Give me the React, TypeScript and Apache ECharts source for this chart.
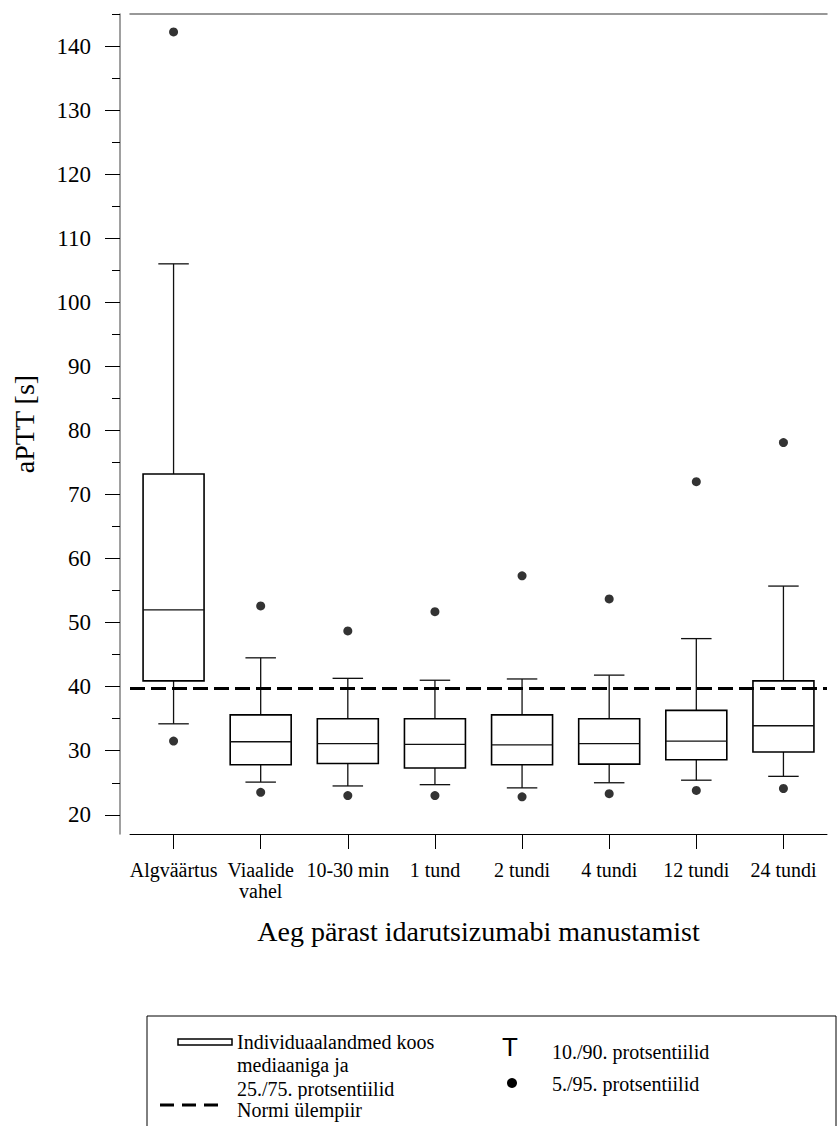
import React, { useEffect, useRef } from "react";
import * as echarts from "echarts";

// aPTT by time point: box = 25th/75th percentile with median,
// whiskers = 10th/90th percentile, dots = 5th/95th percentile.
const categories = [
  "Algväärtus",
  "Viaalide\nvahel",
  "10-30 min",
  "1 tund",
  "2 tundi",
  "4 tundi",
  "12 tundi",
  "24 tundi",
];
const p10 = [34.2, 25.1, 24.5, 24.7, 24.2, 25.0, 25.4, 26.0];
const q1 = [40.9, 27.8, 28.0, 27.3, 27.8, 27.9, 28.6, 29.8];
const median = [52.0, 31.4, 31.1, 31.0, 30.9, 31.1, 31.5, 33.9];
const q3 = [73.2, 35.6, 35.0, 35.0, 35.6, 35.0, 36.3, 40.9];
const p90 = [106.0, 44.5, 41.3, 41.0, 41.2, 41.8, 47.5, 55.7];
const p5 = [31.5, 23.5, 23.0, 23.0, 22.8, 23.3, 23.8, 24.1];
const p95 = [142.2, 52.6, 48.7, 51.7, 57.3, 53.7, 72.0, 78.1];
const normUpper = 39.8;

const majorTicks = [20, 30, 40, 50, 60, 70, 80, 90, 100, 110, 120, 130, 140];
const minorTicks = [25, 35, 45, 55, 65, 75, 85, 95, 105, 115, 125, 135, 145];

const SERIF = "Liberation Serif";
const SANS = "Liberation Sans";

export default function App() {
  const ref = useRef<HTMLDivElement>(null);

  useEffect(() => {
    if (!ref.current) return;
    const chart = echarts.init(ref.current, null, { renderer: "svg" });

    const boxData = categories.map((_, i) => [i, p10[i], q1[i], median[i], q3[i], p90[i]]);
    const dotData: number[][] = [];
    categories.forEach((_, i) => {
      dotData.push([i, p5[i]]);
      dotData.push([i, p95[i]]);
    });

    const option: any = {
      animation: false,
      backgroundColor: "#fff",
      textStyle: { fontFamily: SERIF },
      grid: { left: 130, right: 11, top: 14, bottom: 292, containLabel: false },
      xAxis: [
        {
          type: "category",
          data: categories,
          position: "bottom",
          boundaryGap: true,
          axisLine: { show: true, lineStyle: { color: "#000", width: 1 } },
          axisTick: { show: true, alignWithLabel: true, length: 15, lineStyle: { color: "#000" } },
          axisLabel: {
            interval: 0,
            margin: 25,
            color: "#000",
            fontFamily: SERIF,
            fontSize: 20,
            lineHeight: 21,
          },
          splitLine: { show: false },
          name: "Aeg pärast idarutsizumabi manustamist",
          nameLocation: "middle",
          nameGap: 83,
          nameTextStyle: { color: "#000", fontFamily: SERIF, fontSize: 28 },
        },
        {
          type: "category",
          data: categories,
          position: "top",
          axisLine: { show: true, lineStyle: { color: "#777", width: 1.5 } },
          axisTick: { show: false },
          axisLabel: { show: false },
          splitLine: { show: false },
        },
      ],
      yAxis: [
        {
          type: "value",
          min: 17,
          max: 145,
          position: "left",
          offset: 10,
          axisLine: { show: true, lineStyle: { color: "#808080", width: 1.5 } },
          axisTick: {
            show: true,
            length: 15,
            customValues: majorTicks,
            lineStyle: { color: "#000" },
          },
          axisLabel: {
            customValues: majorTicks,
            margin: 29,
            color: "#000",
            fontFamily: SERIF,
            fontSize: 23,
          },
          splitLine: { show: false },
          name: "aPTT [s]",
          nameLocation: "middle",
          nameGap: 82,
          nameTextStyle: { color: "#000", fontFamily: SERIF, fontSize: 28 },
        },
        {
          type: "value",
          min: 17,
          max: 145,
          position: "left",
          offset: 10,
          axisLine: { show: false },
          axisTick: {
            show: true,
            length: 8,
            customValues: minorTicks,
            lineStyle: { color: "#000" },
          },
          axisLabel: { show: false },
          splitLine: { show: false },
        },
      ],
      series: [
        {
          name: "Individuaalandmed koos mediaaniga ja 25./75. protsentiilid",
          type: "custom",
          xAxisIndex: 0,
          yAxisIndex: 0,
          data: boxData,
          encode: { x: 0, y: [1, 2, 3, 4, 5] },
          z: 2,
          renderItem: (params: any, api: any) => {
            const i = api.value(0);
            const band = api.size([1, 0])[0];
            const boxW = band * 0.7;
            const capW = band * 0.35;
            const lo = api.coord([i, api.value(1)]);
            const cx = lo[0];
            const yLo = lo[1];
            const yQ1 = api.coord([i, api.value(2)])[1];
            const yMed = api.coord([i, api.value(3)])[1];
            const yQ3 = api.coord([i, api.value(4)])[1];
            const yHi = api.coord([i, api.value(5)])[1];
            const seg = (x1: number, y1: number, x2: number, y2: number, w: number) => ({
              type: "line",
              shape: { x1, y1, x2, y2 },
              style: { stroke: "#111", lineWidth: w },
            });
            return {
              type: "group",
              children: [
                seg(cx, yHi, cx, yQ3, 1.3),
                seg(cx - capW / 2, yHi, cx + capW / 2, yHi, 1.3),
                seg(cx, yQ1, cx, yLo, 1.3),
                seg(cx - capW / 2, yLo, cx + capW / 2, yLo, 1.3),
                {
                  type: "rect",
                  shape: { x: cx - boxW / 2, y: yQ3, width: boxW, height: yQ1 - yQ3 },
                  style: { fill: "#fff", stroke: "#000", lineWidth: 1.6 },
                },
                seg(cx - boxW / 2, yMed, cx + boxW / 2, yMed, 1.3),
              ],
            };
          },
        },
        {
          name: "5./95. protsentiilid",
          type: "scatter",
          xAxisIndex: 0,
          yAxisIndex: 0,
          data: dotData,
          symbol: "circle",
          symbolSize: 9,
          itemStyle: { color: "#000" },
          z: 3,
          markLine: {
            silent: true,
            symbol: "none",
            label: { show: false },
            lineStyle: { color: "#000", width: 3, type: [15, 6] },
            data: [{ yAxis: normUpper }],
            z: 4,
          },
        },
      ],
      graphic: [
        {
          type: "rect",
          shape: { x: 147, y: 1016, width: 689, height: 140 },
          style: { fill: "#fff", stroke: "#000", lineWidth: 1 },
        },
        {
          type: "rect",
          shape: { x: 178, y: 1039, width: 54, height: 6 },
          style: { fill: "#fff", stroke: "#000", lineWidth: 1.5 },
        },
        {
          type: "text",
          x: 237,
          y: 1030,
          style: {
            text: "Individuaalandmed koos\nmediaaniga ja\n25./75. protsentiilid",
            fontFamily: SERIF,
            fontSize: 20,
            lineHeight: 23.5,
            fill: "#000",
            verticalAlign: "top",
          },
        },
        {
          type: "line",
          shape: { x1: 160, y1: 1105, x2: 226, y2: 1105 },
          style: { stroke: "#000", lineWidth: 3, lineDash: [14, 8] },
        },
        {
          type: "text",
          x: 237,
          y: 1110,
          style: {
            text: "Normi ülempiir",
            fontFamily: SERIF,
            fontSize: 20,
            fill: "#000",
            verticalAlign: "middle",
            backgroundColor: "#fff",
            padding: [1, 2, 0, 0],
          },
        },
        {
          type: "text",
          x: 510,
          y: 1047,
          style: {
            text: "T",
            fontFamily: SANS,
            fontSize: 26,
            fill: "#000",
            align: "center",
            verticalAlign: "middle",
          },
        },
        {
          type: "text",
          x: 552,
          y: 1052,
          style: {
            text: "10./90. protsentiilid",
            fontFamily: SERIF,
            fontSize: 20,
            fill: "#000",
            verticalAlign: "middle",
          },
        },
        {
          type: "circle",
          shape: { cx: 512, cy: 1083, r: 5 },
          style: { fill: "#000" },
        },
        {
          type: "text",
          x: 552,
          y: 1084,
          style: {
            text: "5./95. protsentiilid",
            fontFamily: SERIF,
            fontSize: 20,
            fill: "#000",
            verticalAlign: "middle",
          },
        },
      ],
    };

    chart.setOption(option);
    return () => chart.dispose();
  }, []);

  return (
    <div
      ref={ref}
      style={{ position: "absolute", left: 0, top: 0, width: 838, height: 1126, background: "#fff" }}
    />
  );
}
